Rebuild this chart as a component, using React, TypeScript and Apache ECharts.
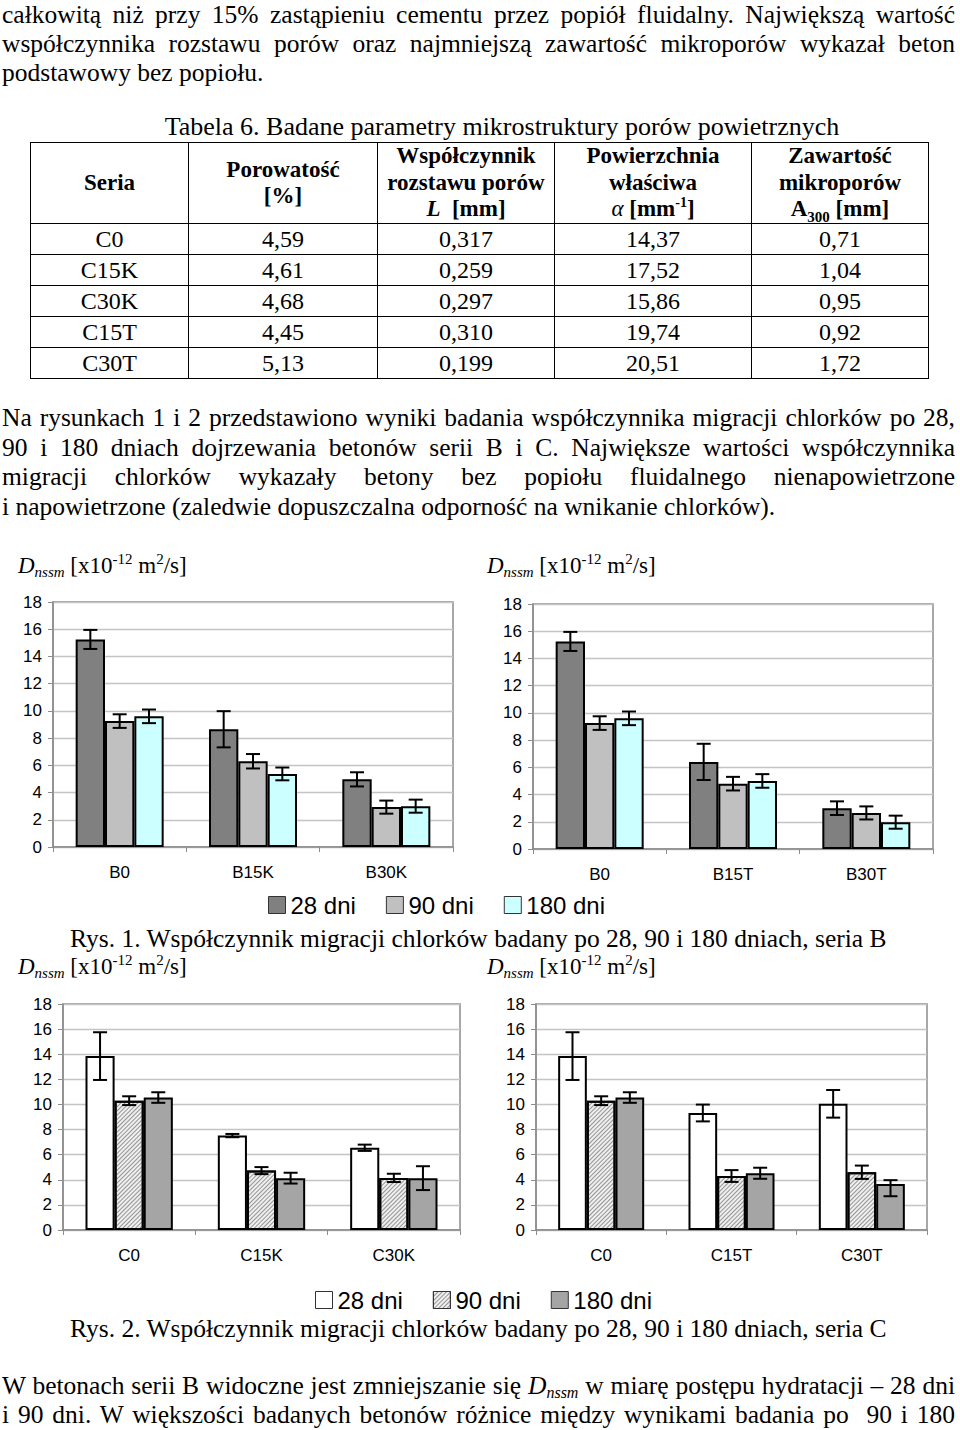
import React, { useEffect, useRef } from "react";
import * as echarts from "echarts";

// ---------- data ----------
const seriesNames = ["28 dni", "90 dni", "180 dni"];
const seriesNamesC = ["C-28 dni", "C-90 dni", "C-180 dni"];

const catsB1 = ["B0", "B15K", "B30K"];
const catsB2 = ["B0", "B15T", "B30T"];
const catsC1 = ["C0", "C15K", "C30K"];
const catsC2 = ["C0", "C15T", "C30T"];

// Rys. 1 – seria B (K)
const b1_28 = [15.25, 8.65, 4.97];
const b1_90 = [9.25, 6.3, 2.93];
const b1_180 = [9.6, 5.37, 3.0];
const b1_err28 = [0.7, 1.33, 0.52];
const b1_err90 = [0.5, 0.53, 0.48];
const b1_err180 = [0.5, 0.47, 0.48];

// Rys. 1 – seria B (T)
const b2_28 = [15.25, 6.4, 3.0];
const b2_90 = [9.25, 4.8, 2.65];
const b2_180 = [9.6, 5.0, 1.97];
const b2_err28 = [0.7, 1.33, 0.5];
const b2_err90 = [0.5, 0.5, 0.48];
const b2_err180 = [0.5, 0.5, 0.48];

// Rys. 2 – seria C (K)
const c1_28 = [13.85, 7.52, 6.55];
const c1_90 = [10.3, 4.73, 4.15];
const c1_180 = [10.55, 4.13, 4.13];
const c1_errUp28 = [1.9, 0.13, 0.25];
const c1_errDn28 = [1.9, 0.13, 0.25];
const c1_errUp90 = [0.35, 0.28, 0.33];
const c1_errDn90 = [0.35, 0.28, 0.33];
const c1_errUp180 = [0.42, 0.43, 0.95];
const c1_errDn180 = [0.42, 0.43, 0.95];

// Rys. 2 – seria C (T)
const c2_28 = [13.85, 9.32, 10.05];
const c2_90 = [10.3, 4.3, 4.6];
const c2_180 = [10.55, 4.52, 3.67];
const c2_errUp28 = [1.9, 0.67, 1.1];
const c2_errDn28 = [1.9, 0.67, 1.1];
const c2_errUp90 = [0.35, 0.47, 0.53];
const c2_errDn90 = [0.35, 0.47, 0.53];
const c2_errUp180 = [0.42, 0.44, 0.3];
const c2_errDn180 = [0.42, 0.44, 0.98];

const yMin = 0;
const yMax = 18;
const yInterval = 2;

// Tabela 6
const tabSeria = ["C0", "C15K", "C30K", "C15T", "C30T"];
const tabPorowatosc = ["4,59", "4,61", "4,68", "4,45", "5,13"];
const tabL = ["0,317", "0,259", "0,297", "0,310", "0,199"];
const tabAlpha = ["14,37", "17,52", "15,86", "19,74", "20,51"];
const tabA300 = ["0,71", "1,04", "0,95", "0,92", "1,72"];

// ---------- styles ----------
const SERIF = "'Liberation Serif', 'Times New Roman', serif";
const SANS = "'Liberation Sans', Arial, sans-serif";
const colorsB = ["#808080", "#c0c0c0", "#ccffff"];
const colorsC = ["#ffffff", "#efefef", "#a5a5a5"];
const hatch = {
  symbol: "rect",
  symbolSize: 1,
  color: "rgba(110,110,110,0.7)",
  dashArrayX: [1, 0],
  dashArrayY: [1, 2],
  rotation: -Math.PI / 4,
};

const BAR_CAT_GAP = 0.34;

function buildOption() {
  const grids = [
    { left: 53, top: 62, width: 400, height: 245 },
    { left: 533, top: 64, width: 400, height: 245 },
    { left: 63, top: 464, width: 397, height: 226 },
    { left: 536, top: 464, width: 391, height: 226 },
  ].map((g) => ({
    ...g,
    show: true,
    borderColor: "#8c8c8c",
    borderWidth: 1.5,
    backgroundColor: "transparent",
  }));

  const catsAll = [catsB1, catsB2, catsC1, catsC2];
  const xAxes = catsAll.map((cats, i) => ({
    type: "category",
    gridIndex: i,
    data: cats,
    axisLine: { lineStyle: { color: "#8c8c8c", width: 1.5 } },
    axisTick: { show: true, length: 5, lineStyle: { color: "#8c8c8c" } },
    axisLabel: { fontFamily: SANS, fontSize: 17, color: "#000", margin: 17 },
  }));
  const yAxes = catsAll.map((_, i) => ({
    type: "value",
    gridIndex: i,
    min: yMin,
    max: yMax,
    interval: yInterval,
    axisLine: { show: true, lineStyle: { color: "#8c8c8c", width: 1.5 } },
    axisTick: { show: true, length: 5, lineStyle: { color: "#8c8c8c" } },
    axisLabel: { fontFamily: SANS, fontSize: 17, color: "#000", margin: 11 },
    splitLine: { show: true, lineStyle: { color: "#c4c4c4", width: 1.3 } },
  }));

  const chartsData = [
    {
      vals: [b1_28, b1_90, b1_180],
      up: [b1_err28, b1_err90, b1_err180],
      dn: [b1_err28, b1_err90, b1_err180],
      names: seriesNames,
      colors: colorsB,
    },
    {
      vals: [b2_28, b2_90, b2_180],
      up: [b2_err28, b2_err90, b2_err180],
      dn: [b2_err28, b2_err90, b2_err180],
      names: seriesNames,
      colors: colorsB,
    },
    {
      vals: [c1_28, c1_90, c1_180],
      up: [c1_errUp28, c1_errUp90, c1_errUp180],
      dn: [c1_errDn28, c1_errDn90, c1_errDn180],
      names: seriesNamesC,
      colors: colorsC,
    },
    {
      vals: [c2_28, c2_90, c2_180],
      up: [c2_errUp28, c2_errUp90, c2_errUp180],
      dn: [c2_errDn28, c2_errDn90, c2_errDn180],
      names: seriesNamesC,
      colors: colorsC,
    },
  ];

  const series: any[] = [];
  chartsData.forEach((cd, ci) => {
    cd.vals.forEach((vals, si) => {
      const itemStyle: any = {
        color: cd.colors[si],
        borderColor: "#000",
        borderWidth: 2,
      };
      if (ci >= 2 && si === 1) itemStyle.decal = hatch;
      series.push({
        type: "bar",
        name: cd.names[si],
        xAxisIndex: ci,
        yAxisIndex: ci,
        data: vals,
        barGap: "0%",
        barCategoryGap: BAR_CAT_GAP * 100 + "%",
        itemStyle,
        emphasis: { disabled: true },
      });
    });
    const errData: number[][] = [];
    cd.vals.forEach((vals, si) => {
      vals.forEach((v, c) => {
        errData.push([c, si, v - cd.dn[si][c], v + cd.up[si][c]]);
      });
    });
    series.push({
      type: "custom",
      name: "err" + ci,
      xAxisIndex: ci,
      yAxisIndex: ci,
      z: 10,
      data: errData,
      encode: { x: 0, y: [2, 3] },
      renderItem: (params: any, api: any) => {
        const cat = api.value(0);
        const s = api.value(1);
        const lo = api.value(2);
        const hi = api.value(3);
        const band = api.size([1, 0])[0];
        const bw = (band * (1 - BAR_CAT_GAP)) / 3;
        const pHi = api.coord([cat, hi]);
        const pLo = api.coord([cat, lo]);
        const x = pHi[0] + (s - 1) * bw;
        const cap = 7;
        const st = { stroke: "#000", lineWidth: 2 };
        return {
          type: "group",
          children: [
            { type: "line", shape: { x1: x, y1: pHi[1], x2: x, y2: pLo[1] }, style: st },
            { type: "line", shape: { x1: x - cap, y1: pHi[1], x2: x + cap, y2: pHi[1] }, style: st },
            { type: "line", shape: { x1: x - cap, y1: pLo[1], x2: x + cap, y2: pLo[1] }, style: st },
          ],
        };
      },
    });
  });

  const legendCommon = {
    orient: "horizontal",
    icon: "rect",
    itemWidth: 17,
    itemHeight: 17,
    itemGap: 30,
    selectedMode: false,
    textStyle: { fontFamily: SANS, fontSize: 24, color: "#000" },
    itemStyle: { borderWidth: 1, borderColor: "#333" },
  };

  const axisName = (x: number, y: number) => ({
    type: "text",
    x,
    y,
    style: {
      text: "{i|D}{sub|nssm}{n| [x10}{sup|-12}{n| m}{sup|2}{n|/s]}",
      verticalAlign: "middle",
      fill: "#000",
      rich: {
        i: { fontFamily: SERIF, fontStyle: "italic", fontSize: 23, lineHeight: 28 },
        n: { fontFamily: SERIF, fontSize: 23, lineHeight: 28 },
        sub: {
          fontFamily: SERIF,
          fontStyle: "italic",
          fontSize: 15,
          lineHeight: 15,
          verticalAlign: "bottom",
        },
        sup: { fontFamily: SERIF, fontSize: 15, lineHeight: 15, verticalAlign: "top" },
      },
    },
  });

  const caption = (y: number, text: string) => ({
    type: "text",
    x: 70,
    y,
    style: {
      text,
      fontFamily: SERIF,
      fontSize: 25.5,
      fill: "#000",
      verticalAlign: "middle",
    },
  });

  return {
    animation: false,
    backgroundColor: "#fff",
    grid: grids,
    xAxis: xAxes,
    yAxis: yAxes,
    legend: [
      { ...legendCommon, data: seriesNames, left: 263, top: 348 },
      {
        ...legendCommon,
        data: seriesNamesC,
        left: 310,
        top: 743,
        formatter: (n: string) => n.replace("C-", ""),
      },
    ],
    graphic: [
      axisName(18, 25),
      axisName(487, 25),
      axisName(18, 426),
      axisName(487, 426),
      caption(398, "Rys. 1. Współczynnik migracji chlorków badany po 28, 90 i 180 dniach, seria B"),
      caption(788, "Rys. 2. Współczynnik migracji chlorków badany po 28, 90 i 180 dniach, seria C"),
    ],
    series,
  };
}

// ---------- components ----------
const Line = ({
  top,
  justify,
  children,
}: {
  top: number;
  justify?: boolean;
  children: React.ReactNode;
}) => (
  <div
    style={{
      position: "absolute",
      left: 2,
      top,
      width: 953,
      height: 29,
      fontSize: 25.5,
      lineHeight: "29px",
      textAlign: justify ? "justify" : "left",
      textAlignLast: justify ? "justify" : "left",
      color: "#000",
    } as any}
  >
    {children}
  </div>
);

const cellBorder = "1.5px solid #000";
const colWidths = [158, 189, 177, 197, 177];

export default function App() {
  const ref = useRef<HTMLDivElement>(null);
  useEffect(() => {
    if (!ref.current) return;
    const chart = echarts.init(ref.current, null, { renderer: "svg" });
    chart.setOption(buildOption() as any);
    return () => chart.dispose();
  }, []);

  const th: React.CSSProperties = {
    border: cellBorder,
    fontWeight: "bold",
    fontSize: 23,
    lineHeight: "26.5px",
    textAlign: "center",
    verticalAlign: "middle",
    padding: 0,
    height: 80,
  };
  const td: React.CSSProperties = {
    border: cellBorder,
    fontSize: 24,
    lineHeight: "28px",
    textAlign: "center",
    verticalAlign: "middle",
    padding: 0,
    height: 30,
  };

  return (
    <div
      style={{
        position: "absolute",
        left: 0,
        top: 0,
        width: 960,
        height: 1430,
        background: "#fff",
        overflow: "hidden",
        fontFamily: SERIF,
        color: "#000",
      }}
    >
      <Line top={0} justify>
        całkowitą niż przy 15% zastąpieniu cementu przez popiół fluidalny. Największą wartość
      </Line>
      <Line top={29} justify>
        współczynnika rozstawu porów oraz najmniejszą zawartość mikroporów wykazał beton
      </Line>
      <Line top={58}>podstawowy bez popiołu.</Line>

      <div
        style={{
          position: "absolute",
          left: 0,
          top: 112,
          width: 1004,
          textAlign: "center",
          fontSize: 26,
          lineHeight: "29px",
        }}
      >
        Tabela 6. Badane parametry mikrostruktury porów powietrznych
      </div>

      <table
        style={{
          position: "absolute",
          left: 30,
          top: 142,
          width: 898,
          borderCollapse: "collapse",
          tableLayout: "fixed",
          fontFamily: SERIF,
        }}
      >
        <colgroup>
          {colWidths.map((w, i) => (
            <col key={i} style={{ width: w }} />
          ))}
        </colgroup>
        <tbody>
          <tr>
            <td style={th}>Seria</td>
            <td style={th}>
              Porowatość
              <br />
              [%]
            </td>
            <td style={th}>
              Współczynnik
              <br />
              rozstawu porów
              <br />
              <i>L</i> &nbsp;[mm]
            </td>
            <td style={th}>
              Powierzchnia
              <br />
              właściwa
              <br />
              <i style={{ fontWeight: "normal" }}>α</i> [mm
              <sup style={{ fontSize: 14, lineHeight: 0 }}>-1</sup>]
            </td>
            <td style={th}>
              Zawartość
              <br />
              mikroporów
              <br />
              A<sub style={{ fontSize: 15, lineHeight: 0 }}>300</sub> [mm]
            </td>
          </tr>
          {tabSeria.map((s, i) => (
            <tr key={s}>
              <td style={td}>{s}</td>
              <td style={td}>{tabPorowatosc[i]}</td>
              <td style={td}>{tabL[i]}</td>
              <td style={td}>{tabAlpha[i]}</td>
              <td style={td}>{tabA300[i]}</td>
            </tr>
          ))}
        </tbody>
      </table>

      <Line top={403} justify>
        Na rysunkach 1 i 2 przedstawiono wyniki badania współczynnika migracji chlorków po 28,
      </Line>
      <Line top={433} justify>
        90 i 180 dniach dojrzewania betonów serii B i C. Największe wartości współczynnika
      </Line>
      <Line top={462} justify>
        migracji chlorków wykazały betony bez popiołu fluidalnego nienapowietrzone
      </Line>
      <Line top={492}>
        i napowietrzone (zaledwie dopuszczalna odporność na wnikanie chlorków).
      </Line>

      <div
        ref={ref}
        style={{ position: "absolute", left: 0, top: 540, width: 960, height: 812 }}
      />

      <Line top={1371} justify>
        W betonach serii B widoczne jest zmniejszanie się{" "}
        <i>
          D
          <span style={{ fontSize: 16, position: "relative", top: 4, lineHeight: 0 }}>
            nssm
          </span>
        </i>{" "}
        w miarę postępu hydratacji – 28 dni
      </Line>
      <Line top={1400} justify>
        i 90 dni. W większości badanych betonów różnice między wynikami badania po&nbsp; 90 i 180
      </Line>
    </div>
  );
}
